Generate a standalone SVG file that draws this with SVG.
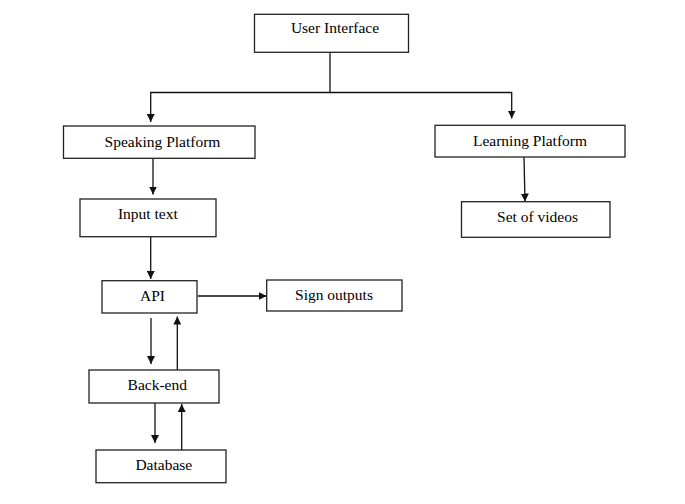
<svg xmlns="http://www.w3.org/2000/svg" width="685" height="504" viewBox="0 0 685 504">
<defs>
<style>
.box{fill:#fff;stroke:#222;stroke-width:1.3}
.lbl{font-family:"Liberation Serif","Times New Roman",serif;font-size:15.5px;fill:#000;text-anchor:middle}
.con{fill:none;stroke:#111;stroke-width:1.3}
</style>
<marker id="ah" viewBox="0 0 8 8" refX="8" refY="4" markerWidth="8" markerHeight="8" markerUnits="userSpaceOnUse" orient="auto">
<path d="M0,0 L8,4 L0,8 z" fill="#111"/>
</marker>
</defs>
<rect width="685" height="504" fill="#fff"/>
<g id="connectors">
<path class="con" d="M330,52.3 V92.5 H150.7 V122" marker-end="url(#ah)"/>
<path class="con" d="M330,92.5 H511.7 V118.5" marker-end="url(#ah)"/>
<path class="con" d="M153,158.3 V194.5" marker-end="url(#ah)"/>
<path class="con" d="M524,157 L525,201.5" marker-end="url(#ah)"/>
<path class="con" d="M150.7,236.7 V279" marker-end="url(#ah)"/>
<path class="con" d="M197.7,296 H266.7" marker-end="url(#ah)"/>
<path class="con" d="M151,318 V364" marker-end="url(#ah)"/>
<path class="con" d="M177.3,370 V316.5" marker-end="url(#ah)"/>
<path class="con" d="M155,403 V443" marker-end="url(#ah)"/>
<path class="con" d="M181.7,450 V404" marker-end="url(#ah)"/>
</g>
<g id="user-interface"><rect class="box" x="254.5" y="14.3" width="154" height="38"/><text class="lbl" x="335" y="33.3">User Interface</text></g>
<g id="speaking-platform"><rect class="box" x="63.5" y="126" width="191.5" height="32.3"/><text class="lbl" x="162.5" y="146.5">Speaking Platform</text></g>
<g id="learning-platform"><rect class="box" x="435" y="125.3" width="190" height="31.7"/><text class="lbl" x="530" y="146">Learning Platform</text></g>
<g id="input-text"><rect class="box" x="80" y="199" width="136" height="37.7"/><text class="lbl" x="147.8" y="219">Input text</text></g>
<g id="set-of-videos"><rect class="box" x="461.5" y="201.7" width="148.5" height="35.6"/><text class="lbl" x="537.5" y="221.7">Set of videos</text></g>
<g id="api"><rect class="box" x="102" y="280.7" width="95" height="32.3"/><text class="lbl" x="152.5" y="300.7">API</text></g>
<g id="sign-outputs"><rect class="box" x="266.7" y="280" width="135.3" height="31"/><text class="lbl" x="334" y="300">Sign outputs</text></g>
<g id="back-end"><rect class="box" x="89" y="370" width="130" height="33"/><text class="lbl" x="157.3" y="390">Back-end</text></g>
<g id="database"><rect class="box" x="96" y="450" width="130" height="32.7"/><text class="lbl" x="163.8" y="470">Database</text></g>
</svg>
